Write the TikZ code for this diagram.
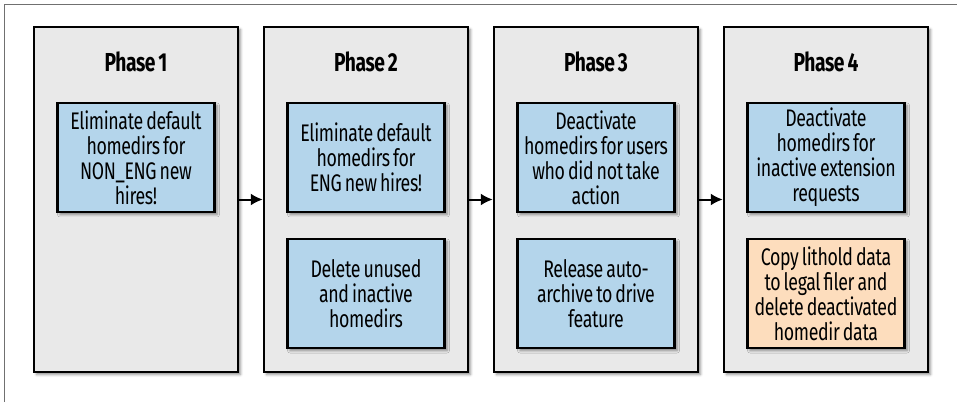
\documentclass[tikz,border=0pt]{standalone}
\usepackage{fontspec}
\setmainfont{Fira Sans}[FakeStretch=0.74, LetterSpace=-1.5, WordSpace=0.7]
\usepackage{xcolor}
\usepackage{tikz}
\usetikzlibrary{positioning,chains,shadows.blur,arrows.meta}

\definecolor{phasegray}{HTML}{E9E9E9}
\definecolor{taskblue}{HTML}{B4D5EB}
\definecolor{taskorange}{HTML}{FDDDBD}
\definecolor{framegray}{HTML}{707070}

\begin{document}
\begin{tikzpicture}[x=1pt, y=1pt,
    softshadow/.style={blur shadow={shadow xshift=2.5pt, shadow yshift=-2.5pt, shadow blur radius=2.5pt, shadow opacity=45}},
    phase/.style={draw, line width=2.5pt, fill=phasegray, minimum width=204pt, minimum height=345pt,
    inner sep=0pt, softshadow},
    phasetitle/.style={font=\fontsize{26}{28}\selectfont\bfseries},
    task/.style={draw, line width=2.5pt, fill=taskblue, minimum width=157pt, minimum height=109pt,
    align=center, inner sep=0pt, font=\fontsize{24}{25}\selectfont, softshadow},
    >={Latex[length=12pt,width=12pt]}, start chain=going right, node distance=23.5pt]

  \useasboundingbox (0,0) rectangle (957,402);
  \draw[framegray, line width=1pt] (4,0) |- (957,397);

  \node[phase,on chain] (P1) at (136,202.5) {};
  \node[phase,on chain] (P2) {};
  \node[phase,on chain] (P3) {};
  \node[phase,on chain] (P4) {};

  \node[phasetitle] (T1) at ([yshift=-36pt]P1.north) {Phase 1};
  \node[phasetitle] (T2) at ([yshift=-36pt]P2.north) {Phase 2};
  \node[phasetitle] (T3) at ([yshift=-36pt]P3.north) {Phase 3};
  \node[phasetitle] (T4) at ([yshift=-36pt]P4.north) {Phase 4};

  \node[task,anchor=north] (A1) at ([yshift=-76pt]P1.north) {Eliminate default\\homedirs for\\NON\_ENG new\\hires!};
  \node[task,anchor=north] (A2) at ([yshift=-76pt]P2.north) {Eliminate default\\homedirs for\\ENG new hires!};
  \node[task,anchor=north] (A3) at ([yshift=-76pt]P3.north) {Deactivate\\homedirs for users\\who did not take\\action};
  \node[task,anchor=north] (A4) at ([yshift=-76pt]P4.north) {Deactivate\\homedirs for\\inactive extension\\requests};

  \node[task,below=24.5pt of A2] (B2) {Delete unused\\and inactive\\homedirs};
  \node[task,below=24.5pt of A3] (B3) {Release auto-\\archive to drive\\feature};
  \node[task,fill=taskorange,below=24.5pt of A4] (B4) {Copy lithold data\\to legal filer and\\delete deactivated\\homedir data};

  \draw[->, line width=2pt] (P1) -- (P2);
  \draw[->, line width=2pt] (P2) -- (P3);
  \draw[->, line width=2pt] (P3) -- (P4);

\end{tikzpicture}
\end{document}
